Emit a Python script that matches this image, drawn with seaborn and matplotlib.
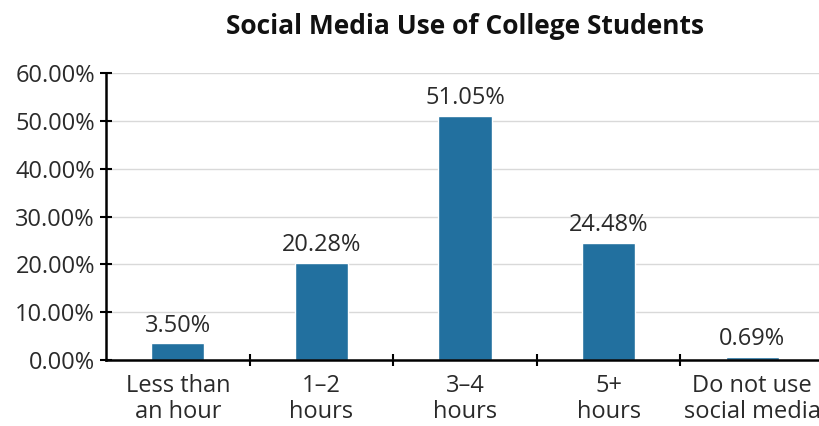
import numpy as np
import pandas as pd
import seaborn as sns
import matplotlib.pyplot as plt
from matplotlib.ticker import FixedLocator, StrMethodFormatter

# data
categories = ["Less than\nan hour", "1\u20132\nhours", "3\u20134\nhours", "5+\nhours", "Do not use\nsocial media"]
shares = [3.50, 20.28, 51.05, 24.48, 0.69]

df = pd.DataFrame({"usage": categories, "share": shares})

sns.set_theme(style="white")
plt.rcParams["font.family"] = ["Open Sans", "DejaVu Sans"]

fig = plt.figure(figsize=(8.2, 4.26), dpi=100)
ax = fig.add_axes([106 / 820, 66 / 426, (824 - 106) / 820, 287 / 426])

sns.barplot(data=df, x="usage", y="share", color="#22709f", width=0.37,
            saturation=1, ax=ax)

# value labels
for i, v in enumerate(df["share"]):
    ax.text(i, v + 1.2, f"{v:.2f}%", ha="center", va="bottom",
            fontsize=17, color="#2a2a2a")

ax.set_ylim(0, 60)
ax.set_xlim(-0.5, len(categories) - 0.5)
ax.set_yticks(np.arange(0, 61, 10))
ax.yaxis.set_major_formatter(StrMethodFormatter("{x:.2f}%"))
ax.yaxis.grid(True, color="#d9d9d9", linewidth=1)
ax.set_axisbelow(True)

# x ticks sit between categories
ax.xaxis.set_minor_locator(FixedLocator(np.arange(0.5, len(categories) - 0.5, 1)))
ax.tick_params(axis="x", which="major", length=0, pad=10, labelsize=17, labelcolor="#2a2a2a")
ax.tick_params(axis="x", which="minor", length=8, width=1.5, direction="inout", color="black", bottom=True)
ax.tick_params(axis="y", length=8, width=1.5, direction="inout", color="black", pad=4,
               labelsize=17, labelcolor="#2a2a2a", left=True)
for lbl in ax.get_xticklabels():
    lbl.set_linespacing(1.12)

for side in ["top", "right"]:
    ax.spines[side].set_visible(False)
for side in ["left", "bottom"]:
    ax.spines[side].set_color("black")
    ax.spines[side].set_linewidth(1.8)

ax.set_xlabel("")
ax.set_ylabel("")
fig.text(465 / 820, 1 - 26 / 426, "Social Media Use of College Students",
         ha="center", va="center", fontsize=19, fontweight="bold", color="#111111")

fig.savefig("out.png", dpi=100)
